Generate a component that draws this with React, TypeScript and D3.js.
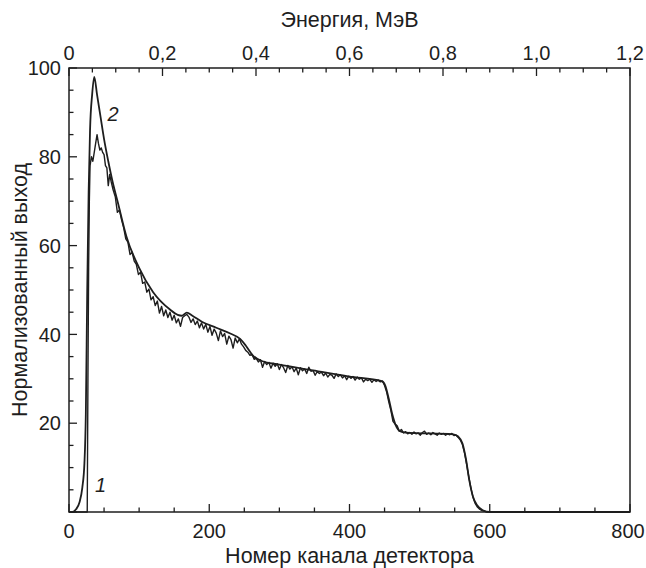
import { scaleLinear, line, curveMonotoneX, range } from "d3";

const width = 646;
const height = 568;
const margin = { left: 69, right: 16, top: 68, bottom: 56 };

const channelTicks = [0, 200, 400, 600, 800];
const energyTicks = [0, 0.2, 0.4, 0.6, 0.8, 1.0, 1.2];
const yieldTicks = [20, 40, 60, 80, 100];

// curve 2 - calculated spectrum (smooth), [channel, normalized yield]
const calcCurve: [number, number][] = [
  [0, 0], [5, 0], [10, 0.6], [15, 2.2], [19, 5.5], [22, 11], [24, 22], [26, 50], [28, 72],
  [30, 86], [33, 94], [36, 98], [40, 94], [45, 89], [50, 84], [56, 79], [62, 74.5],
  [70, 69.5], [82, 62], [100, 55], [120, 49.5], [144, 45.6], [155, 44.4], [161, 44.2],
  [168, 44.9], [176, 44.2], [190, 42.8], [210, 41.5], [230, 40.2], [244, 39], [252, 37.5],
  [262, 35.3], [275, 34], [300, 33.2], [344, 32], [400, 30.5], [446, 29.5], [451, 28.5],
  [456, 25.5], [461, 22], [466, 19.5], [472, 18.2], [480, 17.9], [548, 17.5], [555, 17],
  [561, 15.5], [566, 12], [571, 7], [576, 3.5], [582, 1.5], [590, 0.4], [600, 0], [800, 0],
];

// curve 1 - measured spectrum (noisy), [channel, normalized yield]
const measCurve: [number, number][] = [
  [0, 0], [26, 0], [27, 30], [28, 55], [29, 70], [30, 78], [32, 80], [34, 79], [36, 81],
  [38, 83], [40, 85], [42, 83], [44, 81.5], [46, 82], [48, 81], [50, 80.5], [52, 78],
  [54, 77.5], [56, 73.5], [58, 76], [60, 74.5], [63, 72.5], [66, 71], [69, 67.5], [72, 68],
  [75, 65.8], [78, 64], [81, 61.5], [84, 60.8], [87, 58], [90, 58.5], [93, 56.5], [96, 55.8],
  [99, 53.5], [102, 54], [105, 51.5], [108, 51.8], [111, 49.5], [114, 50.2], [117, 47.8],
  [120, 48.5], [123, 46.5], [126, 47.5], [129, 44.8], [132, 46.3], [135, 44.2], [138, 45.5],
  [141, 43.8], [144, 45], [147, 43.2], [150, 44.3], [153, 42.6], [156, 43.5], [159, 41.8],
  [162, 43.8], [165, 44.2], [168, 44.5], [171, 43.9], [174, 42.7], [177, 43.5], [180, 42.2],
  [183, 43], [186, 41.5], [189, 42.6], [192, 41.2], [195, 42.3], [198, 40.5], [201, 41.8],
  [204, 39.8], [207, 41.2], [210, 40.3], [213, 38.6], [216, 40.8], [219, 39.5], [222, 40.2],
  [225, 37.8], [228, 39.6], [231, 38.8], [234, 36.9], [237, 39.2], [240, 38.1], [243, 39],
  [246, 37.8], [249, 37.2], [252, 36.4], [255, 36], [258, 35.3], [261, 35.5], [264, 34.4],
  [267, 34.6], [270, 33.8], [273, 34.3], [276, 32.6], [279, 33.9], [282, 33.2], [285, 33.7],
  [288, 32.4], [291, 33.5], [294, 32.8], [297, 33.4], [300, 32.1], [303, 33.2], [306, 32.5],
  [309, 31.4], [312, 33], [315, 32.2], [318, 32.7], [321, 31.6], [324, 32.4], [327, 30.9],
  [330, 32.5], [333, 31.8], [336, 32.2], [339, 31.2], [342, 32.6], [345, 31.7], [348, 31.9],
  [351, 30.8], [354, 31.6], [357, 31.2], [360, 31.5], [363, 30.7], [366, 31.3], [369, 30.4],
  [372, 31], [375, 30.8], [378, 30.1], [381, 31.1], [384, 30.5], [387, 30.9], [390, 30.2],
  [393, 30.7], [396, 29.8], [399, 30.6], [402, 30.1], [405, 30.5], [408, 29.7], [411, 30.4],
  [414, 29.9], [417, 30.2], [420, 29.3], [423, 29.9], [426, 29.6], [429, 29.9], [432, 29.2],
  [435, 29.8], [438, 29.4], [441, 29.7], [444, 29.3], [447, 29.5], [450, 28.5], [453, 27],
  [456, 24.8], [459, 22.9], [462, 20.4], [465, 19.8], [468, 19.4], [471, 18.2], [474, 18.6],
  [477, 17.8], [480, 18.1], [483, 17.6], [486, 17.9], [489, 17.5], [492, 18], [495, 17.6],
  [498, 17.8], [501, 17.3], [504, 17.9], [507, 18.2], [510, 17.5], [513, 17.8], [516, 17.4],
  [519, 17.9], [522, 17.6], [525, 17.3], [528, 17.8], [531, 17.5], [534, 17.7], [537, 17.3],
  [540, 17.6], [543, 17.4], [546, 17.7], [549, 17.2], [552, 17.3], [555, 16.8], [558, 16.2],
  [561, 15.2], [564, 13.3], [567, 10.8], [570, 8], [573, 5.5], [576, 3.4], [579, 2],
  [582, 1.2], [585, 0.7], [588, 0.4], [592, 0.2], [596, 0], [800, 0],
];

const font = "'Liberation Sans', Arial, Helvetica, sans-serif";
const ink = "#1e1e1e";
const tickFont = 20;
const titleFont = 21.5;

export default function App() {
  const x = scaleLinear().domain([0, 800]).range([margin.left, width - margin.right]);
  const xE = scaleLinear().domain([0, 1.2]).range([margin.left, width - margin.right]);
  const y = scaleLinear().domain([0, 100]).range([height - margin.bottom, margin.top]);

  const smooth = line<[number, number]>()
    .x(d => x(d[0]))
    .y(d => y(d[1]))
    .curve(curveMonotoneX);
  const noisy = line<[number, number]>()
    .x(d => x(d[0]))
    .y(d => y(d[1]));

  const x0 = x.range()[0], x1 = x.range()[1];
  const y0 = y.range()[0], y1 = y.range()[1];
  const major = 8, minor = 4.5;

  return (
    <svg width={width} height={height} style={{ position: "absolute", left: 0, top: 0, background: "#fff" }}
      fontFamily={font}>
      {/* curves */}
      <path d={noisy(measCurve) ?? ""} fill="none" stroke={ink} strokeWidth={1.4} strokeLinejoin="round" />
      <path d={smooth(calcCurve) ?? ""} fill="none" stroke={ink} strokeWidth={1.8} />

      {/* frame */}
      <rect x={x0} y={y1} width={x1 - x0} height={y0 - y1} fill="none" stroke={ink} strokeWidth={1.5} />

      {/* bottom ticks */}
      {range(0, 801, 50).map(v => (
        <line key={"b" + v} x1={x(v)} x2={x(v)} y1={y0} y2={y0 - (v % 200 === 0 ? major : minor)}
          stroke={ink} strokeWidth={1.3} />
      ))}
      {channelTicks.map(v => (
        <text key={"bl" + v} x={x(v) - (v === 800 ? 2 : 0)} y={y0 + 26} textAnchor="middle" fontSize={tickFont} fill={ink}>{v}</text>
      ))}

      {/* top ticks */}
      {range(0, 25).map(i => i * 0.05).map((v, i) => (
        <line key={"t" + i} x1={xE(v)} x2={xE(v)} y1={y1} y2={y1 + (i % 4 === 0 ? major : minor)}
          stroke={ink} strokeWidth={1.3} />
      ))}
      {energyTicks.map(v => (
        <text key={"tl" + v} x={xE(v)} y={y1 - 8} textAnchor="middle" fontSize={tickFont} fill={ink}>
          {v === 0 ? "0" : v.toFixed(1).replace(".", ",")}
        </text>
      ))}

      {/* left ticks */}
      {range(0, 101, 5).map(v => (
        <line key={"l" + v} x1={x0} x2={x0 + (v % 20 === 0 ? major : minor)} y1={y(v)} y2={y(v)}
          stroke={ink} strokeWidth={1.3} />
      ))}
      {yieldTicks.map(v => (
        <text key={"ll" + v} x={x0 - 8} y={y(v)} dy="0.36em" textAnchor="end" fontSize={tickFont} fill={ink}>{v}</text>
      ))}

      {/* axis titles */}
      <text x={(x0 + x1) / 2} y={height - 5} textAnchor="middle" fontSize={titleFont} fill={ink}>
        Номер канала детектора
      </text>
      <text x={(x0 + x1) / 2} y={27} textAnchor="middle" fontSize={titleFont} fill={ink}>
        Энергия, МэВ
      </text>
      <text transform={`translate(27, ${(y0 + y1) / 2}) rotate(-90)`} textAnchor="middle" fontSize={titleFont} fill={ink}>
        Нормализованный выход
      </text>

      {/* curve labels */}
      <text x={x(37)} y={y(4.5)} fontSize={tickFont} fontStyle="italic" fill={ink}>1</text>
      <text x={x(55)} y={y(88)} fontSize={tickFont} fontStyle="italic" fill={ink}>2</text>
    </svg>
  );
}
